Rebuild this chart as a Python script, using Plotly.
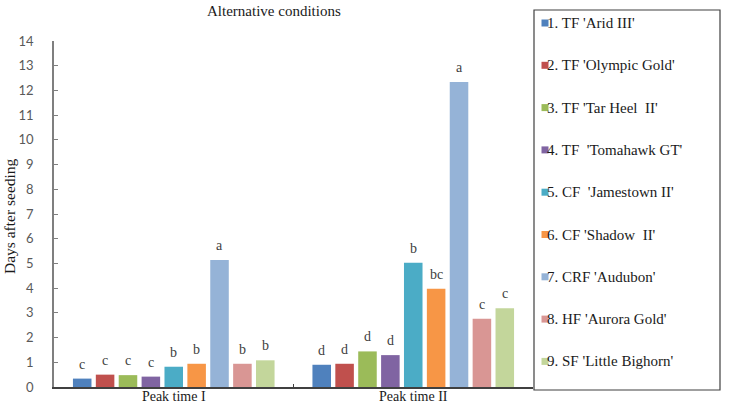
import plotly.graph_objects as go

categories = ["Peak time I", "Peak time II"]
cultivars = ["1. TF 'Arid III'", "2. TF 'Olympic Gold'", "3. TF 'Tar Heel  II'",
             "4. TF  'Tomahawk GT'", "5. CF  'Jamestown II'", "6. CF 'Shadow  II'",
             "7. CRF 'Audubon'", "8. HF 'Aurora Gold'", "9. SF 'Little Bighorn'"]
peak1 = [0.34, 0.50, 0.48, 0.42, 0.82, 0.94, 5.14, 0.94, 1.08]
peak2 = [0.90, 0.94, 1.44, 1.29, 5.03, 3.98, 12.34, 2.76, 3.19]
letters1 = ["c", "c", "c", "c", "b", "b", "a", "b", "b"]
letters2 = ["d", "d", "d", "d", "b", "bc", "a", "c", "c"]
colors = ["#4F81BD", "#C0504D", "#9BBB59", "#8064A2", "#4BACC6",
          "#F79646", "#95B3D7", "#D99694", "#C3D69B"]
y_ticks = list(range(0, 15))

W, H = 730, 407
L, R, T, B = 54, 197, 41, 20
pw, ph = W - L - R, H - T - B
BARGAP, GROUPGAP = 0.14, 0.19
n = len(cultivars)
slot_px = (1 - BARGAP) * (pw / len(categories)) / n

SERIF = "Liberation Serif"

fig = go.Figure()
for i, name in enumerate(cultivars):
    fig.add_trace(go.Bar(
        x=categories, y=[peak1[i], peak2[i]], name=name,
        marker=dict(color=colors[i], line=dict(width=0)),
        showlegend=False,
    ))

def px_x(X):
    return (X - L) / pw

def px_y(Y):
    return (H - B - Y) / ph

annotations = []
for i in range(n):
    for cat, vals, lets in ((categories[0], peak1, letters1), (categories[1], peak2, letters2)):
        annotations.append(dict(x=cat, y=vals[i], xref="x", yref="y", text=lets[i],
                                showarrow=False, xanchor="center", yanchor="bottom",
                                xshift=(i - (n - 1) / 2) * slot_px, yshift=5,
                                font=dict(family=SERIF, size=14, color="#404040")))

shapes = [dict(type="rect", xref="paper", yref="paper",
               x0=px_x(534), x1=px_x(720), y0=px_y(390), y1=px_y(10),
               line=dict(color="#404040", width=1.2), fillcolor="rgba(0,0,0,0)")]
for i, name in enumerate(cultivars):
    yc = 23 + 42.3 * i
    shapes.append(dict(type="rect", xref="paper", yref="paper",
                       x0=px_x(541.5), x1=px_x(548.5), y0=px_y(yc + 3.5), y1=px_y(yc - 3.5),
                       line=dict(width=0), fillcolor=colors[i]))
    annotations.append(dict(xref="paper", yref="paper", x=px_x(545), y=px_y(yc),
                            text=name, showarrow=False, xanchor="left", yanchor="middle",
                            font=dict(family=SERIF, size=15, color="#1a1a1a")))

annotations.append(dict(xref="paper", yref="paper", x=px_x(9), y=px_y(216),
                        text="Days after seeding", textangle=-90, showarrow=False,
                        xanchor="center", yanchor="middle",
                        font=dict(family=SERIF, size=15.5, color="#1a1a1a")))
annotations.append(dict(xref="paper", yref="paper", x=px_x(274), y=px_y(11),
                        text="Alternative conditions", showarrow=False,
                        xanchor="center", yanchor="middle",
                        font=dict(family=SERIF, size=15, color="#1a1a1a")))

fig.update_layout(
    width=W, height=H,
    margin=dict(l=L, r=R, t=T, b=B, pad=0),
    paper_bgcolor="white", plot_bgcolor="white",
    barmode="group", bargap=BARGAP, bargroupgap=GROUPGAP,
    showlegend=False,
    shapes=shapes, annotations=annotations,
    xaxis=dict(showline=True, linecolor="#404040", linewidth=1.5, automargin=False,
               ticks="inside", tickson="boundaries", ticklen=3, tickcolor="#404040",
               tickfont=dict(family=SERIF, size=14, color="#1a1a1a"),
               ticklabelstandoff=-5, showgrid=False, zeroline=False, fixedrange=True),
    yaxis=dict(range=[0, 14], tickvals=y_ticks, showline=True, linecolor="#7f7f7f",
               linewidth=1.5, ticks="inside", ticklen=4, tickcolor="#7f7f7f", automargin=False,
               tickfont=dict(family="Lato", size=13, color="#595959"),
               ticklabelstandoff=16, showgrid=False, zeroline=False, fixedrange=True),
)

fig.write_html("out.html")
